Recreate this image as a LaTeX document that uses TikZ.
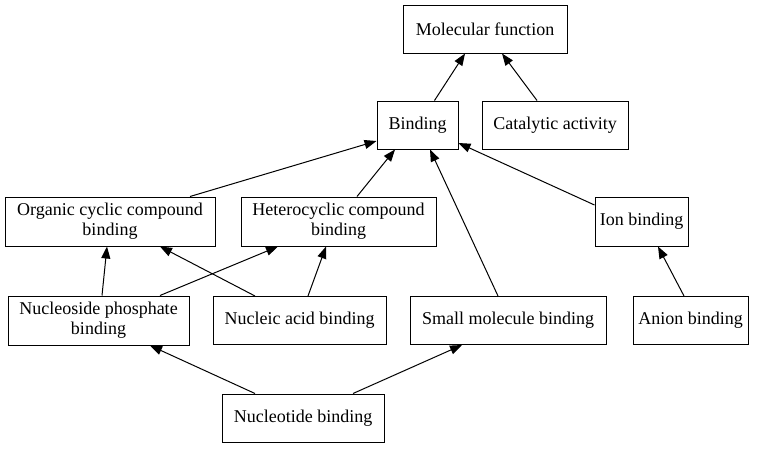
\documentclass[tikz,border=0pt]{standalone}
\usepackage{fontspec}
\setmainfont{Liberation Serif}
\usetikzlibrary{arrows.meta}
\begin{document}
\begin{tikzpicture}[x=1pt,y=-1pt,
  box/.style={draw,line width=1pt,rectangle,inner sep=0pt,align=center,
    font=\fontsize{18}{20}\selectfont},
  edge/.style={line width=1pt,-{Triangle[length=12pt,width=9pt]}}]
\useasboundingbox (0,0) rectangle (765,448);
\node[box,minimum width=164pt,minimum height=48pt] (mf) at (485,29) {Molecular function};
\node[box,minimum width=81pt,minimum height=48pt] (bind) at (417.5,125) {Binding};
\node[box,minimum width=146pt,minimum height=48pt] (cat) at (555,125) {Catalytic activity};
\node[box,minimum width=210pt,minimum height=49pt] (org) at (110,221.5) {Organic cyclic compound\\binding};
\node[box,minimum width=195pt,minimum height=49pt] (het) at (338.5,221.5) {Heterocyclic compound\\binding};
\node[box,minimum width=93pt,minimum height=49pt] (ion) at (641.5,221.5) {Ion binding};
\node[box,minimum width=181pt,minimum height=49pt] (nuc) at (98.5,320.5) {Nucleoside phosphate\\binding};
\node[box,minimum width=173pt,minimum height=48pt] (nacid) at (299.5,320.5) {Nucleic acid binding};
\node[box,minimum width=196pt,minimum height=48pt] (small) at (508,320.5) {Small molecule binding};
\node[box,minimum width=115pt,minimum height=48pt] (anion) at (690.5,320.5) {Anion binding};
\node[box,minimum width=162pt,minimum height=48pt] (ntide) at (303,418) {Nucleotide binding};
\draw[edge] ([xshift=17pt]bind.north) -- ([xshift=-20pt]mf.south);
\draw[edge] ([xshift=-18pt]cat.north) -- ([xshift=17pt]mf.south);
\draw[edge] ([xshift=80pt]org.north) -- ([yshift=-16pt]bind.west);
\draw[edge] ([xshift=18.5pt]het.north) -- ([xshift=-22.5pt]bind.south);
\draw[edge] ([xshift=-10pt]small.north) -- ([xshift=12.5pt]bind.south);
\draw[edge] ([yshift=16.5pt]ion.west) -- ([yshift=-18pt]bind.east);
\draw[edge] ([xshift=-6.5pt]anion.north) -- ([xshift=16.5pt]ion.south);
\draw[edge] ([xshift=3.5pt]nuc.north) -- ([xshift=-3pt]org.south);
\draw[edge] ([xshift=61.5pt]nuc.north) -- ([xshift=-60.5pt]het.south);
\draw[edge] ([xshift=-44.5pt]nacid.north) -- ([xshift=50pt]org.south);
\draw[edge] ([xshift=8.5pt]nacid.north) -- ([xshift=-12.5pt]het.south);
\draw[edge] ([xshift=-48pt]ntide.north) -- ([xshift=51.5pt]nuc.south);
\draw[edge] ([xshift=50pt]ntide.north) -- ([xshift=-46pt]small.south);
\end{tikzpicture}
\end{document}
